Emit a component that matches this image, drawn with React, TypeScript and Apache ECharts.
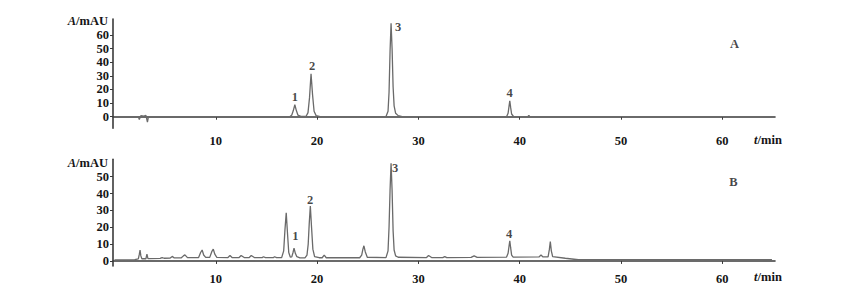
import React, { useEffect, useRef } from "react";
import * as echarts from "echarts";

// Chromatogram A (standard): [time (min), absorbance (mAU)]
const traceA: number[][] = [
  [0, 0], [2.35, 0], [2.45, -2], [2.6, 0.8], [2.9, 0.5], [3.1, 1], [3.25, -4], [3.35, 0],
  [17.3, 0], [17.5, 1.2], [17.65, 4.5], [17.8, 8.8], [17.95, 4.5], [18.1, 1.2], [18.4, 0.2],
  [18.9, 0.2], [19.1, 3], [19.25, 14], [19.4, 31.5], [19.55, 16], [19.7, 4], [19.9, 0.8], [20.3, 0],
  [26.8, 0.2], [27.0, 4], [27.1, 18], [27.2, 48], [27.3, 68.5], [27.4, 50], [27.5, 22], [27.6, 8],
  [27.75, 2.5], [28.0, 0.8], [28.4, 0],
  [35.0, 0], [35.5, -0.5], [38.0, -0.5], [38.7, 0], [38.85, 2.5], [38.95, 8], [39.02, 11.7],
  [39.1, 7], [39.2, 2], [39.4, 0],
  [40.8, 0], [40.9, 1], [41.0, 0], [64.9, 0]
];

// Chromatogram B (sample)
const traceB: number[][] = [
  [0, 0.6], [2.0, 0.8], [2.35, 1.2], [2.45, 4], [2.52, 6.5], [2.6, 3], [2.7, 1.3], [3.1, 1.3],
  [3.2, 4], [3.3, 1.4],
  [4.5, 1.5], [4.7, 2], [4.9, 1.6], [5.5, 1.7], [5.7, 2.7], [5.9, 1.8],
  [6.6, 1.9], [6.8, 3], [6.95, 3.6], [7.2, 2], [8.3, 2], [8.5, 5], [8.65, 6.5], [8.8, 3.5], [9.0, 2.1],
  [9.4, 2.1], [9.6, 5.5], [9.75, 7], [9.9, 4], [10.1, 2.1],
  [11.2, 2], [11.4, 3.2], [11.6, 2], [12.3, 2], [12.5, 3.2], [12.8, 2], [13.3, 2], [13.5, 3.2], [13.8, 2],
  [14.6, 2], [14.7, 2.5], [14.9, 2], [15.7, 2], [15.8, 2.5], [16.0, 2],
  [16.5, 2], [16.7, 6], [16.82, 18], [16.95, 28.6], [17.08, 16], [17.2, 5], [17.35, 2.3],
  [17.5, 2.4], [17.62, 5], [17.72, 7.6], [17.85, 4.5], [18.0, 2.5],
  [18.3, 1.8], [18.8, 1.8], [19.0, 3.5], [19.12, 10], [19.22, 22], [19.33, 32.6], [19.45, 20],
  [19.58, 7], [19.75, 2.6], [20.2, 1.9],
  [20.5, 1.9], [20.7, 3.5], [20.9, 1.9], [24.2, 1.9], [24.4, 3.5], [24.52, 7], [24.62, 9], [24.75, 5.5],
  [24.95, 2.2],
  [26.8, 2], [27.0, 6], [27.1, 20], [27.2, 42], [27.3, 58], [27.4, 42], [27.5, 18], [27.6, 6.5],
  [27.75, 3], [28.0, 2.2],
  [30.8, 2], [31.0, 3.2], [31.3, 2], [32.4, 2], [32.6, 2.6], [32.8, 2],
  [35.2, 2.1], [35.5, 3], [35.8, 2.1], [38.7, 2.3], [38.85, 4.5], [38.95, 9], [39.02, 12],
  [39.1, 8], [39.2, 3.5], [39.35, 2.3],
  [41.9, 2.4], [42.1, 3.5], [42.3, 2.4], [42.8, 2.4], [42.93, 7], [43.02, 11.5], [43.12, 6],
  [43.25, 2.6],
  [44.5, 1.6], [45.8, 0.7], [64.9, 0.8]
];

const xTicks = [10, 20, 30, 40, 50, 60];
const yTicksA = [0, 10, 20, 30, 40, 50, 60];
const yTicksB = [0, 10, 20, 30, 40, 50];

const peakLabelsA = [
  { name: "1", t: 17.8, v: 14.7 },
  { name: "2", t: 19.5, v: 37 },
  { name: "3", t: 28.0, v: 66 },
  { name: "4", t: 39.0, v: 17.6 },
  { name: "A", t: 61.2, v: 53.4 }
];
const peakLabelsB = [
  { name: "1", t: 17.85, v: 14.8 },
  { name: "2", t: 19.3, v: 36.2 },
  { name: "3", t: 27.7, v: 55 },
  { name: "4", t: 38.95, v: 15.8 },
  { name: "B", t: 61.1, v: 47 }
];

const FONT = "'Liberation Serif', 'DejaVu Serif', serif";
const AXIS_COLOR = "#3a3a3a";
const LINE_COLOR = "#6a6a6a";
const TEXT_COLOR = "#151515";

function makeX(gridIndex: number) {
  return {
    type: "value",
    gridIndex,
    min: -0.15,
    max: 65.2,
    splitLine: { show: false },
    axisLine: { show: true, lineStyle: { color: AXIS_COLOR, width: 1.6 } },
    axisTick: { show: true, length: 3, customValues: xTicks, lineStyle: { color: AXIS_COLOR } },
    axisLabel: {
      customValues: xTicks,
      margin: 6,
      fontFamily: FONT,
      fontWeight: "bold",
      fontSize: 12.5,
      color: TEXT_COLOR
    }
  };
}

function makeY(gridIndex: number, min: number, max: number, ticks: number[]) {
  return {
    type: "value",
    gridIndex,
    min,
    max,
    splitLine: { show: false },
    axisLine: { show: true, onZero: false, lineStyle: { color: AXIS_COLOR, width: 1.6 } },
    axisTick: { show: true, length: 3, customValues: ticks, lineStyle: { color: AXIS_COLOR } },
    axisLabel: {
      customValues: ticks,
      margin: 4,
      fontFamily: FONT,
      fontWeight: "bold",
      fontSize: 12.5,
      color: TEXT_COLOR
    }
  };
}

function labelSeries(idx: number, labels: { name: string; t: number; v: number }[]) {
  return {
    type: "scatter",
    xAxisIndex: idx,
    yAxisIndex: idx,
    symbolSize: 0,
    silent: true,
    data: labels.map((l) => ({ name: l.name, value: [l.t, l.v] })),
    label: {
      show: true,
      position: "inside",
      formatter: (p: any) => p.name,
      fontFamily: FONT,
      fontWeight: "bold",
      fontSize: 12.5,
      color: TEXT_COLOR
    }
  };
}

const richText = (first: string, rest: string) => ({
  text: `{i|${first}}{b|${rest}}`,
  rich: {
    i: { fontFamily: FONT, fontStyle: "italic", fontWeight: "bold", fontSize: 12.5, fill: TEXT_COLOR },
    b: { fontFamily: FONT, fontWeight: "bold", fontSize: 12.5, fill: TEXT_COLOR }
  }
});

const axisTitle = (y: number) => ({
  type: "text",
  x: 108,
  y,
  style: { ...richText("A", "/mAU"), align: "right", verticalAlign: "middle" }
});

const timeTitle = (y: number) => ({
  type: "text",
  x: 768,
  y,
  style: { ...richText("t", "/min"), align: "center", verticalAlign: "middle" }
});

export default function App() {
  const ref = useRef<HTMLDivElement>(null);
  useEffect(() => {
    if (!ref.current) return;
    const chart = echarts.init(ref.current, undefined, { renderer: "svg" });
    chart.setOption({
      animation: false,
      backgroundColor: "#ffffff",
      grid: [
        { left: 113, right: 67, top: 19, height: 109.3 },
        { left: 113, right: 67, top: 159.3, height: 106.7 }
      ],
      xAxis: [makeX(0), makeX(1)],
      yAxis: [makeY(0, -8.5, 71.7, yTicksA), makeY(1, -3, 60.3, yTicksB)],
      series: [
        {
          type: "line",
          xAxisIndex: 0,
          yAxisIndex: 0,
          data: traceA,
          showSymbol: false,
          symbol: "none",
          lineStyle: { color: LINE_COLOR, width: 1.3 },
          silent: true
        },
        {
          type: "line",
          xAxisIndex: 1,
          yAxisIndex: 1,
          data: traceB,
          showSymbol: false,
          symbol: "none",
          lineStyle: { color: LINE_COLOR, width: 1.3 },
          silent: true
        },
        labelSeries(0, peakLabelsA),
        labelSeries(1, peakLabelsB)
      ],
      graphic: [axisTitle(21), axisTitle(163), timeTitle(140), timeTitle(277)]
    });
    return () => chart.dispose();
  }, []);
  return (
    <div
      ref={ref}
      style={{ position: "absolute", left: 0, top: 0, width: 842, height: 289 }}
    />
  );
}
